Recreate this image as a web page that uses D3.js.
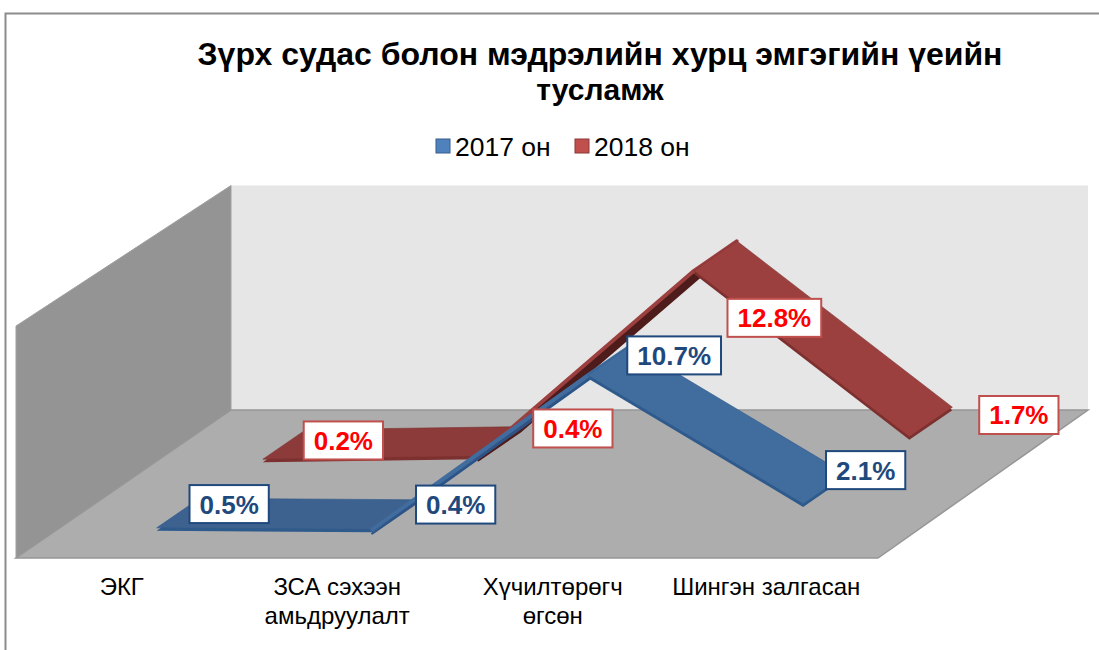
<!DOCTYPE html>
<html><head><meta charset="utf-8">
<style>html,body{margin:0;padding:0;background:#fff}svg{display:block}text{font-family:"Liberation Sans",Arial,sans-serif}</style>
<script src="https://cdn.jsdelivr.net/npm/d3@7/dist/d3.min.js"></script>
</head><body><script>
const categories = [["ЭКГ"],["ЗСА сэхээн","амьдруулалт"],["Хүчилтөрөгч","өгсөн"],["Шингэн залгасан"]];
const values2017 = [0.5,0.4,10.7,2.1];
const values2018 = [0.2,0.4,12.8,1.7];
const titleLines = ["Зүрх судас болон мэдрэлийн хурц эмгэгийн үеийн","тусламж"];
const seriesNames = ["2017 он","2018 он"];

const W=1099,H=650;
const svg=d3.select("body").append("svg").attr("width",W).attr("height",H);
const x=d3.scaleBand().domain(d3.range(4)).range([16,878]);
const cx=i=>x(i)+x.bandwidth()/2;
const y=d3.scaleLinear().domain([0,15.5]).range([558,326]);
const depthX=d3.scaleLinear().domain([0,1]).range([0,215]);
const depthY=d3.scaleLinear().domain([0,1]).range([0,-148]);
const P=(i,v,z)=>[cx(i)+depthX(z),y(v)+depthY(z)];
const poly=pts=>pts.map(p=>p.join(",")).join(" ");

// frame
svg.append("path").attr("d","M5.5,650V13.5H1099").attr("fill","none").attr("stroke","#8c8c8c").attr("stroke-width",2);

// walls
const backTop=y(15)+depthY(1), backBase=y(0)+depthY(1), backL=16+depthX(1), backR=1088;
svg.append("polygon").attr("points",poly([[backL,backTop],[backR,backTop],[backR,backBase],[backL,backBase]])).attr("fill","#e6e6e6");
svg.append("polygon").attr("points",poly([[16,y(15.5)],[backL,backTop],[backL,backBase],[16,y(0)]])).attr("fill","#949494").attr("stroke","#a0a0a0").attr("stroke-width",1);
svg.append("polygon").attr("points",poly([[backL,backBase],[backR,backBase],[878,y(0)],[16,y(0)]])).attr("fill","#adadad").attr("stroke","#969696").attr("stroke-width",1.5);

// ribbons
const series=[
 {vals:values2018,z:0.647,top:"#9c403f",flat:"#8c3a3a",side:"#7c302f",under:"#4e1c1b",border:"#c0504d",text:"#ff0000",
  nudge:[[59,-4],[73,-13],[59,62],[88,-7]]},
 {vals:values2017,z:0.153,top:"#416c9e",flat:"#3e628f",side:"#2f5a8c",under:"#2c5488",border:"#1f497d",text:"#1f497d",
  nudge:[[51,-9],[62,-10],[65,-5],[41,-19]]}
];
const dz=0.2, thick=0.2, underThick=0.28;
series.forEach(s=>{
 const g=svg.append("g");
 d3.range(3).forEach(i=>{
  const a=s.vals[i],b=s.vals[i+1];
  const q=[P(i,a,s.z),P(i+1,b,s.z),P(i+1,b,s.z+dz),P(i,a,s.z+dz)];
  const cross=(q[1][0]-q[0][0])*(q[3][1]-q[0][1])-(q[1][1]-q[0][1])*(q[3][0]-q[0][0]);
  const under=cross>0;
  const flat=Math.abs(b-a)<1;
  const t=under?underThick:thick;
  const lower=[P(i,a-t,s.z),P(i+1,b-t,s.z),P(i+1,b-t,s.z+dz),P(i,a-t,s.z+dz)];
  if(under){
   g.append("polygon").attr("points",poly(q)).attr("fill",s.top).attr("stroke",s.top).attr("stroke-width",3.5).attr("stroke-linejoin","round");
   g.append("polygon").attr("points",poly(lower)).attr("fill",s.under).attr("stroke",s.under).attr("stroke-width",2).attr("stroke-linejoin","round");
  } else {
   g.append("polygon").attr("points",poly(lower)).attr("fill",s.side);
   g.append("polygon").attr("points",poly(q)).attr("fill",flat?s.flat:s.top).attr("stroke",s.side).attr("stroke-width",0.6);
  }
 });
});

// labels
series.forEach(s=>{
 s.vals.forEach((v,i)=>{
  const p=P(i,v,s.z+dz/2);
  const c=[p[0]+s.nudge[i][0],p[1]+s.nudge[i][1]];
  const t=v.toFixed(1)+"%";
  const g=svg.append("g").attr("transform",`translate(${c[0]},${c[1]})`);
  const r=g.append("rect").attr("fill","#fff").attr("stroke",s.border).attr("stroke-width",2);
  const tx=g.append("text").text(t).attr("text-anchor","middle").attr("y",9.5).attr("font-size",26).attr("font-weight","bold").attr("fill",s.text);
  const w=tx.node().getComputedTextLength()+20;
  r.attr("x",-w/2).attr("y",-19).attr("width",w).attr("height",38);
 });
});

// title
svg.selectAll(".t").data(titleLines).join("text").attr("x",600).attr("y",(d,i)=>65+i*35)
 .attr("text-anchor","middle").attr("font-size",(d,i)=>i?30:32).attr("font-weight","bold").attr("fill","#000").text(d=>d);

// legend
const legendX=[436,575],fills=["#4f81bd","#c0504d"],edges=["#385d8a","#8c3836"];
seriesNames.forEach((n,i)=>{
 svg.append("rect").attr("x",legendX[i]).attr("y",139).attr("width",14).attr("height",14).attr("fill",fills[i]).attr("stroke",edges[i]);
 svg.append("text").attr("x",legendX[i]+19).attr("y",156).attr("font-size",26.5).attr("fill","#000").text(n);
});

// categories
categories.forEach((lines,i)=>{
 lines.forEach((l,j)=>{
  svg.append("text").attr("x",cx(i)-(i==3?4:2)).attr("y",595+j*29).attr("text-anchor","middle").attr("font-size",24).attr("fill","#000").text(l);
 });
});
</script></body></html>
